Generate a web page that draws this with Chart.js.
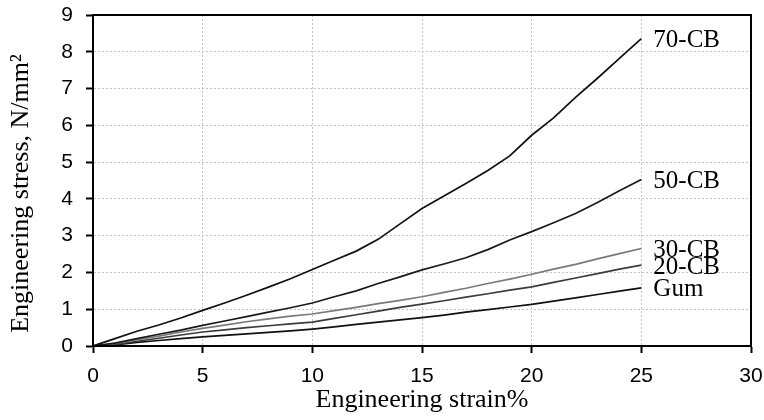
<!DOCTYPE html>
<html>
<head>
<meta charset="utf-8">
<script src="https://cdn.jsdelivr.net/npm/chart.js@4"></script>
<style>
  html, body { margin: 0; padding: 0; background: #fff; }
  #wrap { width: 764px; height: 420px; }
</style>
</head>
<body>
<div id="wrap"><canvas id="myChart" width="764" height="420"></canvas></div>
<script>
// strain values (%)
var strain = [0,1,2,3,4,5,6,7,8,9,10,11,12,13,14,15,16,17,18,19,20,21,22,23,24,25];
// stress values (N/mm2) per compound
var cb70 = [0,0.20,0.40,0.57,0.76,0.97,1.17,1.38,1.60,1.83,2.08,2.33,2.58,2.90,3.32,3.74,4.08,4.42,4.77,5.17,5.73,6.20,6.76,7.28,7.82,8.36];
var cb50 = [0,0.08,0.20,0.32,0.43,0.56,0.68,0.80,0.92,1.04,1.17,1.34,1.50,1.70,1.88,2.07,2.23,2.40,2.62,2.88,3.11,3.35,3.60,3.90,4.22,4.53];
var cb30 = [0,0.07,0.17,0.27,0.38,0.48,0.57,0.66,0.74,0.81,0.87,0.96,1.05,1.15,1.24,1.34,1.46,1.57,1.70,1.82,1.95,2.09,2.22,2.37,2.51,2.65];
var cb20 = [0,0.04,0.13,0.21,0.30,0.38,0.44,0.50,0.55,0.60,0.65,0.75,0.85,0.95,1.05,1.14,1.23,1.33,1.42,1.52,1.61,1.73,1.85,1.97,2.09,2.20];
var gum  = [0,0.03,0.10,0.15,0.20,0.25,0.29,0.33,0.37,0.41,0.46,0.52,0.59,0.65,0.71,0.77,0.84,0.92,0.99,1.06,1.13,1.22,1.31,1.40,1.49,1.58];

var names  = ['70-CB','50-CB','30-CB','20-CB','Gum'];
var series = [cb70, cb50, cb30, cb20, gum];
var colors = ['#111111','#1a1a1a','#7a7a7a','#3c3c3c','#111111'];

function pts(arr) { return arr.map(function (v, i) { return {x: strain[i], y: v}; }); }

var datasets = series.map(function (s, i) {
    return {label: names[i], data: pts(s), borderColor: colors[i], borderWidth: 1.7,
            pointRadius: 0, fill: false, tension: 0};
});

// box around the plot + labels at line ends
const extras = {
    id: 'extras',
    afterDraw(chart) {
        const ctx = chart.ctx, a = chart.chartArea;
        ctx.save();
        ctx.strokeStyle = '#000';
        ctx.lineWidth = 2;
        ctx.strokeRect(a.left, a.top, a.right - a.left, a.bottom - a.top);
        ctx.font = '25px "Liberation Serif", "Times New Roman", serif';
        ctx.fillStyle = '#000';
        ctx.textBaseline = 'middle';
        ctx.textAlign = 'left';
        chart.data.datasets.forEach(function (ds, i) {
            const meta = chart.getDatasetMeta(i);
            const p = meta.data[meta.data.length - 1];
            ctx.fillText(ds.label, p.x + 12, p.y + 2);
        });
        ctx.restore();
    }
};

var tickFont = {family: '"Liberation Sans", Arial, sans-serif', size: 21};
var titleFont = {family: '"Liberation Serif", "Times New Roman", serif', size: 26};

const config = {
    type: 'line',
    data: {datasets: datasets},
    options: {
        responsive: false,
        animation: false,
        layout: {padding: {left: 0, top: 15, right: 13, bottom: 0}},
        plugins: {legend: {display: false}, tooltip: {enabled: false}},
        scales: {
            x: {
                type: 'linear', min: 0, max: 30,
                ticks: {stepSize: 5, color: '#000', font: tickFont, padding: 11, maxRotation: 0},
                grid: {color: '#c4c4c4', tickColor: '#000', tickLength: 7, tickWidth: 2},
                border: {color: '#000', width: 2, dash: [2, 2]},
                title: {display: true, text: 'Engineering strain%', color: '#000', font: titleFont, padding: {top: 0, bottom: 4}},
                afterFit: function (s) { s.height = 74; s.paddingLeft = 0; s.paddingRight = 0; }
            },
            y: {
                min: 0, max: 9,
                ticks: {stepSize: 1, color: '#000', font: tickFont, padding: 13},
                grid: {color: '#c4c4c4', tickColor: '#000', tickLength: 7, tickWidth: 2},
                border: {color: '#000', width: 2, dash: [2, 2]},
                title: {display: true, text: 'Engineering stress, N/mm²    ', color: '#000', font: titleFont, padding: {top: 6, bottom: 0}},
                afterFit: function (s) { s.width = 93; s.paddingTop = 0; s.paddingBottom = 0; }
            }
        }
    },
    plugins: [extras]
};
const myChart = new Chart(document.querySelector('#myChart'), config);
</script>
</body>
</html>
